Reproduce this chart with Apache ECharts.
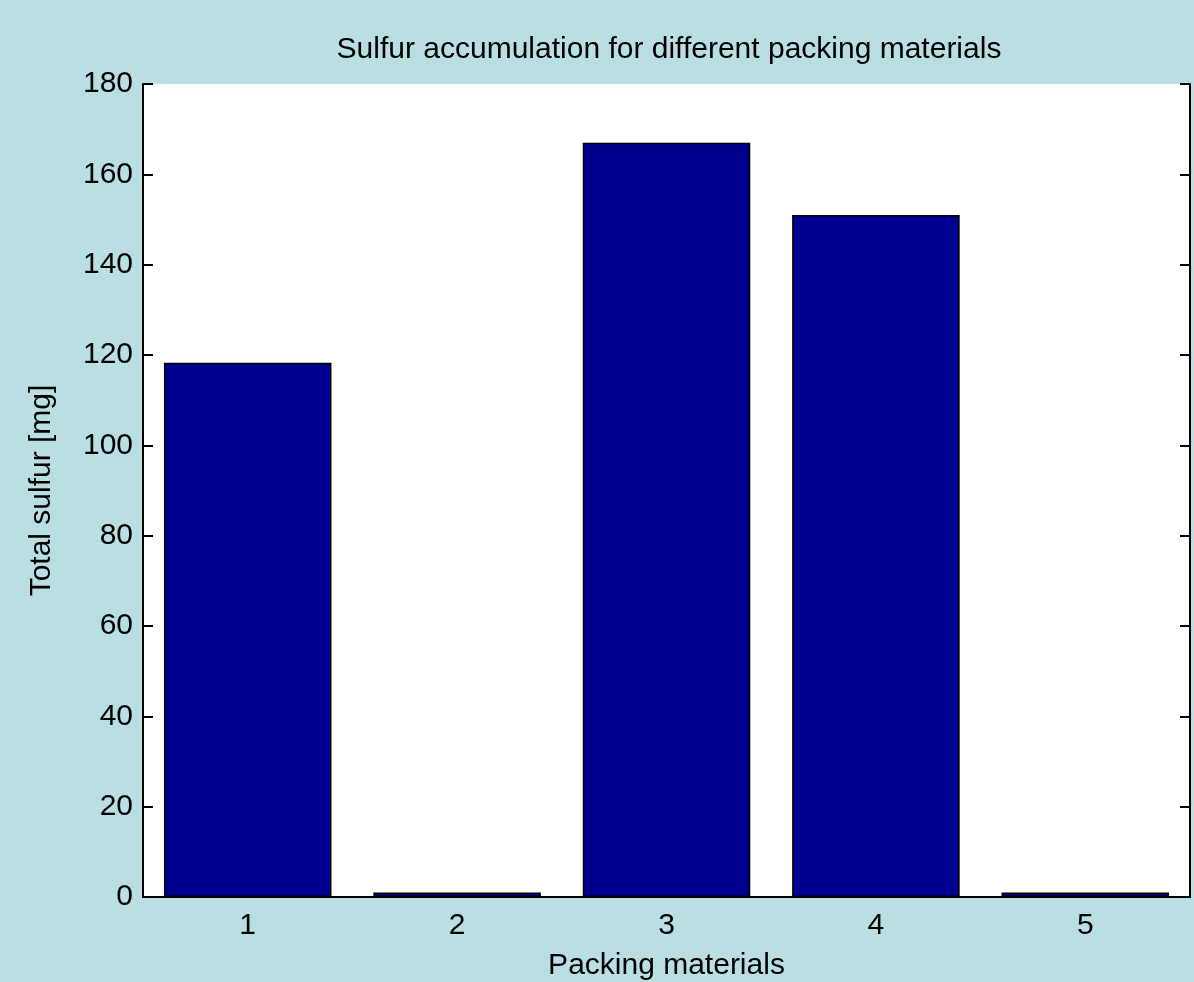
<!DOCTYPE html>
<html lang="en">
<head>
    <meta charset="UTF-8">
    <title>Sulfur accumulation</title>
    <style>
        html, body {
            margin: 0;
            padding: 0;
            background: #badfe2;
        }

        #fig {
            width: 1194px;
            height: 982px;
        }
    </style>
    <script src="https://cdn.jsdelivr.net/npm/echarts@6/dist/echarts.min.js"></script>
</head>
<body>
    <div id="fig"></div>
    <script>
        // 数据
        const materials = ['1', '2', '3', '4', '5'];
        const totalSulfur = [118.3, 1.0, 167.0, 151.0, 1.0];
        const yTicks = {min: 0, max: 180, interval: 20};

        const font = 'Liberation Sans, Arial, sans-serif';
        const fs = 30;

        let fig = echarts.init(document.getElementById('fig'), null, {renderer: 'canvas'});

        // 上/右两条轴只画刻度，模拟 box on
        let option = {
            backgroundColor: '#badfe2',
            animation: false,
            title: {
                text: 'Sulfur accumulation for different packing materials',
                left: 664,
                textAlign: 'center',
                top: 30,
                textStyle: {fontFamily: font, fontSize: fs, fontWeight: 'normal', color: '#000'}
            },
            grid: {
                left: 143, right: 4, top: 84, bottom: 85,
                outerBoundsMode: 'none',
                containLabel: false,
                show: true, backgroundColor: '#fff', borderWidth: 0
            },
            xAxis: [{
                type: 'category',
                data: materials,
                name: 'Packing materials',
                nameLocation: 'middle',
                nameGap: 54,
                nameTextStyle: {fontFamily: font, fontSize: fs, color: '#000'},
                axisLine: {lineStyle: {color: '#000', width: 2}},
                axisTick: {inside: true, alignWithLabel: true, length: 10, lineStyle: {color: '#000', width: 2}},
                axisLabel: {fontFamily: font, fontSize: fs, color: '#000', margin: 14}
            }, {
                type: 'category',
                data: materials,
                position: 'top',
                axisLine: {lineStyle: {color: '#000', width: 2}},
                axisTick: {inside: true, alignWithLabel: true, length: 10, lineStyle: {color: '#000', width: 2}},
                axisLabel: {show: false}
            }],
            yAxis: [{
                type: 'value',
                min: yTicks.min, max: yTicks.max, interval: yTicks.interval,
                name: 'Total sulfur [mg]',
                nameLocation: 'middle',
                nameGap: 86,
                nameTextStyle: {fontFamily: font, fontSize: fs, color: '#000'},
                axisLine: {show: true, lineStyle: {color: '#000', width: 2}},
                axisTick: {show: true, inside: true, length: 10, lineStyle: {color: '#000', width: 2}},
                axisLabel: {fontFamily: font, fontSize: fs, color: '#000', margin: 10},
                splitLine: {show: false}
            }, {
                type: 'value',
                position: 'right',
                min: yTicks.min, max: yTicks.max, interval: yTicks.interval,
                axisLine: {show: true, lineStyle: {color: '#000', width: 2}},
                axisTick: {show: true, inside: true, length: 10, lineStyle: {color: '#000', width: 2}},
                axisLabel: {show: false},
                splitLine: {show: false}
            }],
            series: [{
                type: 'bar',
                data: totalSulfur,
                barWidth: '80%',
                itemStyle: {color: '#00008f', borderColor: '#000', borderWidth: 1.5}
            }]
        };
        fig.setOption(option);
    </script>
</body>
</html>
